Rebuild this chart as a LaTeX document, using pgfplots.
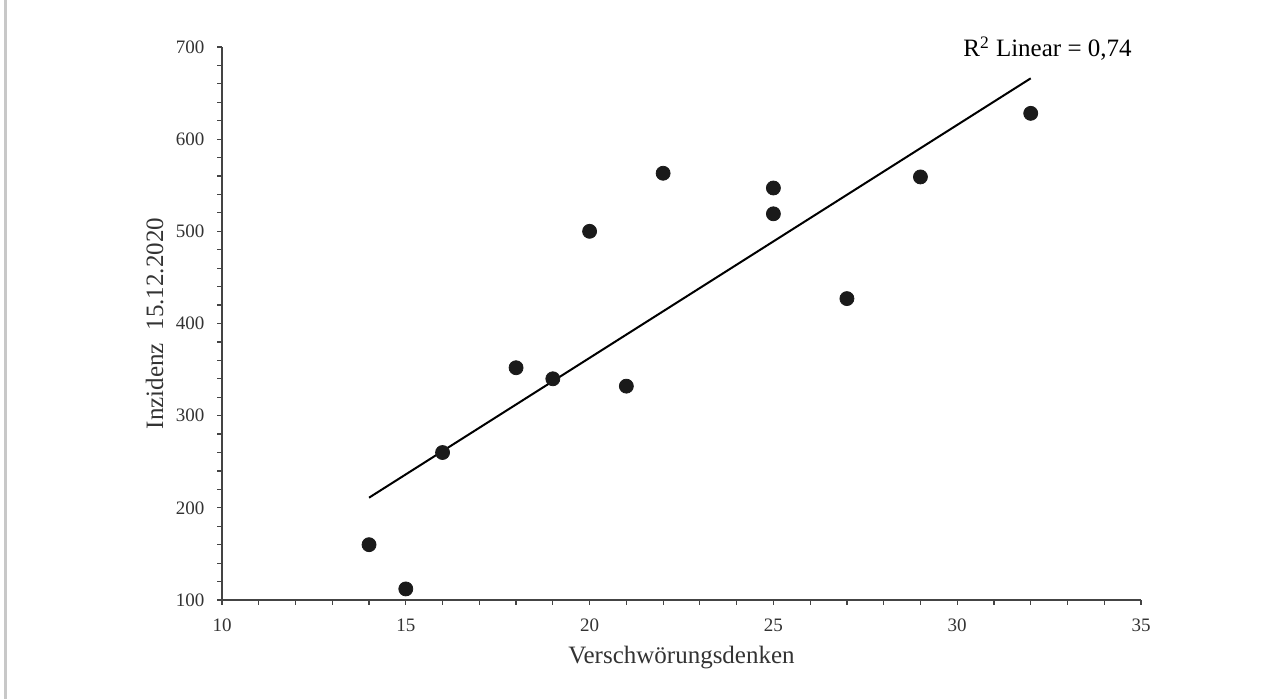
\documentclass[border=0pt]{standalone}
\usepackage{fontspec}
\setmainfont{Liberation Serif}
\usepackage{pgfplots}
\pgfplotsset{compat=1.18}
\definecolor{txt}{HTML}{333333}
\definecolor{axl}{HTML}{444444}
\definecolor{dot}{HTML}{1A1A1A}
\definecolor{edge}{HTML}{C8C8C8}
\begin{document}
\begin{tikzpicture}
\useasboundingbox (0,0) rectangle (643.5pt,349.5pt);
\fill[edge] (2pt,0) rectangle (3.65pt,349.5pt);
\begin{axis}[
  at={(111pt,49.5pt)}, anchor=south west,
  scale only axis, width=459.5pt, height=276.5pt,
  xmin=10, xmax=35, ymin=100, ymax=700,
  enlargelimits=false,
  axis lines=left, axis line style={-, axl, line width=0.6pt},
  xtick={10,15,...,35}, ytick={100,200,...,700},
  minor x tick num=4, minor y tick num=4,
  tick align=outside,
  major tick length=2.3pt, minor tick length=2.3pt,
  tick style={axl, line width=0.6pt},
  /pgf/number format/assume math mode=true,
  ticklabel style={font=\fontsize{9.5}{11}\selectfont, text=txt},
  yticklabel style={xshift=-3pt},
  xticklabel style={yshift=-3.5pt},
  xlabel={Verschwörungsdenken},
  ylabel={Inzidenz~~15.12.2020},
  label style={font=\fontsize{12.5}{15}\selectfont, text=txt},
  xlabel style={at={(axis description cs:0.5,-0.1157)}, anchor=base},
  ylabel style={at={(axis description cs:-0.0642,0.5)}, anchor=base},
  clip=false,
]
\addplot[only marks, mark=*, mark size=3.5pt, mark options={fill=dot, draw=dot}] coordinates {
  (14,160) (15,112) (16,260) (18,352) (19,340) (20,500) (21,332)
  (22,563) (25,547) (25,519) (27,427) (29,559) (32,628)
};
\addplot[black, line width=1pt] coordinates {(14,211) (32,666)};
\node[anchor=base east, font=\fontsize{12.5}{15}\selectfont, text=black, inner sep=0pt]
  at ([xshift=-4.5pt,yshift=-5pt]rel axis cs:1,1) {R\textsuperscript{2} Linear = 0,74};
\end{axis}
\end{tikzpicture}
\end{document}
